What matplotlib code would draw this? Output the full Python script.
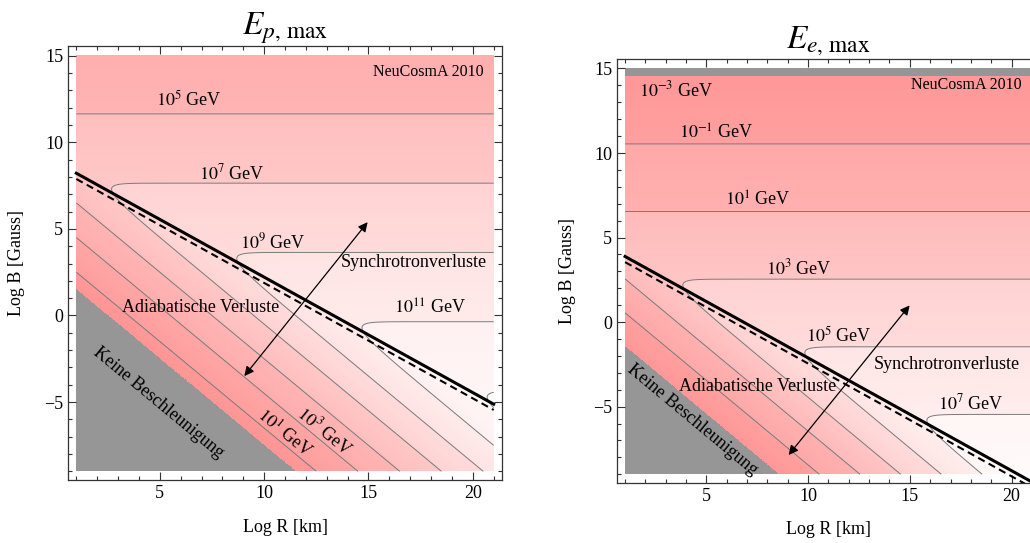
import numpy as np
import matplotlib
matplotlib.use("Agg")
import matplotlib.pyplot as plt
from matplotlib.colors import LinearSegmentedColormap, to_rgba

plt.rcParams['font.family'] = ['Liberation Serif', 'DejaVu Serif']
plt.rcParams['mathtext.fontset'] = 'stix'

# Wertebereich der Rechnung (log10 R [km], log10 B [Gauss])
r_range = [1, 21]
b_range = [-9, 15]

# Protonen: log E_syn = c_s - 0.5 log B, log E_ad = log B + log R + c_a
p_sync_const = 10.82
p_adia_const = -2.5
p_min_logE = 0.0          # darunter: keine Beschleunigung
p_max_logE = 13.4
p_levels = [1, 3, 5, 7, 9, 11, 13]

# Elektronen
e_sync_const = 4.27
e_adia_const = -2.55
e_min_logE = -3.0
e_max_logE = 8.8
e_levels = [-1, 1, 3, 5, 7]

# gestrichelte Linie liegt etwas unter der durchgezogenen
dashed_shift = 0.5

# Beschriftungen: (Text, log R, log B, Drehung)
p_labels = [
    (r"$10^5$ GeV", 6.41, 12.47, 0),
    (r"$10^7$ GeV", 8.47, 8.2, 0),
    (r"$10^9$ GeV", 10.44, 4.2, 0),
    (r"$10^{11}$ GeV", 17.95, 0.39, 0),
    (r"$10^1$ GeV", 10.97, -6.87, -45),
    (r"$10^3$ GeV", 12.92, -6.68, -45),
    ("Synchrotronverluste", 17.15, 3.04, 0),
    ("Adiabatische Verluste", 6.96, 0.48, 0),
    ("Keine Beschleunigung", 4.94, -5.04, -45),
]
e_labels = [
    (r"$10^{-3}$ GeV", 3.5, 13.73, 0),
    (r"$10^{-1}$ GeV", 5.5, 11.17, 0),
    (r"$10^1$ GeV", 7.52, 7.18, 0),
    (r"$10^3$ GeV", 9.53, 3.2, 0),
    (r"$10^5$ GeV", 11.5, -0.78, 0),
    (r"$10^7$ GeV", 18.0, -4.81, 0),
    ("Synchrotronverluste", 16.81, -2.5, 0),
    ("Adiabatische Verluste", 7.54, -3.83, 0),
    ("Keine Beschleunigung", 4.29, -5.8, -45),
]
p_arrow = [(9.05, -3.5), (14.96, 5.39)]
e_arrow = [(9.04, -7.86), (14.99, 0.99)]

cmap = LinearSegmentedColormap.from_list(
    "rosa", [(0, "#FF9494"), (0.35, "#FFB6B6"), (0.6, "#FFD8D8"),
             (0.8, "#FFEDED"), (1, "#FFFAFA")])
gray = "#969696"


def draw_panel(ax, sync_c, adia_c, min_logE, max_logE, levels, title, labels, arrow):
    R = np.linspace(r_range[0], r_range[1], 900)
    B = np.linspace(b_range[0], b_range[1], 1000)
    RR, BB = np.meshgrid(R, B)
    e_syn = sync_c - 0.5 * BB
    e_ad = BB + RR + adia_c
    logE = -np.log10(10.0 ** (-e_syn) + 10.0 ** (-e_ad))

    # Farbe: Mischung aus Band-Stufe und kontinuierlichem Verlauf
    edges = [min_logE] + list(levels) + [max_logE + 2]
    mids = np.array([(a + b) / 2 for a, b in zip(edges[:-1], edges[1:])])
    idx = np.clip(np.digitize(logE, levels), 0, len(mids) - 1)
    val = 0.55 * mids[idx] + 0.45 * logE
    t = np.clip((val - min_logE) / (max_logE - min_logE), 0, 1)
    rgba = cmap(t)
    rgba[logE < min_logE] = to_rgba(gray)
    ax.imshow(rgba, extent=[r_range[0], r_range[1], b_range[0], b_range[1]],
              origin="lower", aspect="auto", interpolation="nearest", zorder=0)

    ax.contour(RR, BB, logE, levels=levels, colors="#7a7a7a", linewidths=0.7,
               linestyles="solid", zorder=1)

    rr = np.array(r_range, dtype=float)
    K = sync_c - adia_c
    ax.plot(rr, (K - rr) / 1.5, color="k", lw=2.2, zorder=3)
    ax.plot(rr, (K - dashed_shift - rr) / 1.5, color="k", lw=1.5,
            dashes=(3.5, 2.2), zorder=3)

    ax.annotate("", xy=arrow[0], xytext=arrow[1],
                arrowprops=dict(arrowstyle="<|-|>", color="k", lw=0.9,
                                mutation_scale=14, shrinkA=0, shrinkB=0), zorder=4)

    for txt, x, y, rot in labels:
        ax.text(x, y, txt, fontsize=13, ha="center", va="center", rotation=rot,
                rotation_mode="anchor", transform_rotates_text=True, zorder=5)
    ax.text(20.5, 14.05, "NeuCosmA 2010", fontsize=11.5, ha="right", va="center", zorder=5)

    ax.set_xlim(0.6, 21.4)
    ax.set_ylim(-9.5, 15.55)
    ax.set_xticks([5, 10, 15, 20])
    ax.set_xticks(np.arange(1, 22), minor=True)
    ax.set_yticks([-5, 0, 5, 10, 15])
    ax.set_yticks(np.arange(-9, 16), minor=True)
    ax.set_yticklabels(["\u22125", "0", "5", "10", "15"])
    ax.tick_params(which="both", direction="in", top=True, right=True,
                   labelsize=13, color="#333333", width=0.8)
    ax.tick_params(which="major", length=5.5)
    ax.tick_params(which="minor", length=3)
    for s in ax.spines.values():
        s.set_color("#333333")
        s.set_linewidth(0.9)
    ax.set_xlabel("Log R [km]", fontsize=13)
    ax.set_ylabel("Log B [Gauss]", fontsize=13)
    ax.xaxis.set_label_coords(0.5, -0.09)
    ax.yaxis.set_label_coords(-0.098, 0.5)
    ax.text(0.5, 1.042, title, transform=ax.transAxes, ha="center", va="center",
            fontsize=24)


fig = plt.figure(figsize=(10.3, 5.43), dpi=100)
ax1 = fig.add_axes([0.066, 0.116, 0.4214, 0.799])
ax2 = fig.add_axes([0.599, 0.111, 0.4107, 0.780])

draw_panel(ax1, p_sync_const, p_adia_const, p_min_logE, p_max_logE, p_levels,
           r"$E_{p,\,\mathrm{max}}$", p_labels, p_arrow)
draw_panel(ax2, e_sync_const, e_adia_const, e_min_logE, e_max_logE, e_levels,
           r"$E_{e,\,\mathrm{max}}$", e_labels, e_arrow)

fig.savefig("out.png", dpi=100)
